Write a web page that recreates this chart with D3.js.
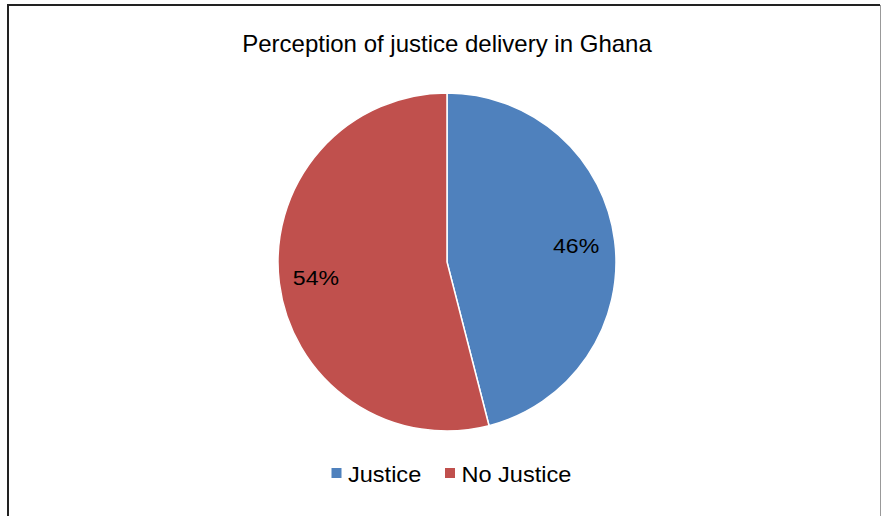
<!DOCTYPE html>
<html><head><meta charset="utf-8">
<script src="https://cdn.jsdelivr.net/npm/d3@7"></script>
<style>body{margin:0;background:#fff;}svg{display:block;font-family:"Liberation Sans",Arial,sans-serif;}</style>
</head><body>
<svg id="c" width="883" height="516"></svg>
<script>
const categories = ["Justice", "No Justice"];
const values = [46, 54];
const colors = ["#4F81BD", "#C0504D"];
const title = "Perception of justice delivery in Ghana";

const svg = d3.select("#c");
// frame
svg.append("line").attr("x1",8).attr("y1",5).attr("x2",880).attr("y2",5).attr("stroke","#222").attr("stroke-width",2);
svg.append("line").attr("x1",8).attr("y1",4).attr("x2",8).attr("y2",516).attr("stroke","#222").attr("stroke-width",2);
svg.append("line").attr("x1",880.5).attr("y1",5).attr("x2",880.5).attr("y2",516).attr("stroke","#999").attr("stroke-width",1);

svg.append("text").attr("x",447).attr("y",51.5).attr("text-anchor","middle")
  .attr("font-size",24).attr("fill","#000").text(title);

const cx = 447, cy = 262, r = 169;
const pie = d3.pie().sort(null).value(d=>d)(values);
const arc = d3.arc().innerRadius(0).outerRadius(r);
const g = svg.append("g").attr("transform",`translate(${cx},${cy})`);
g.selectAll("path").data(pie).join("path").attr("d",arc)
  .attr("fill",(d,i)=>colors[i]).attr("stroke","#fff").attr("stroke-width",1.5);

const labelArc = d3.arc().innerRadius(r*0.77).outerRadius(r*0.77);
const labelShift = [[0,0],[-2,-1]];
g.selectAll("text.lbl").data(pie).join("text").attr("class","lbl")
  .attr("transform",(d,i)=>{const c=labelArc.centroid(d);return `translate(${c[0]+labelShift[i][0]},${c[1]+labelShift[i][1]}) scale(1.1,1)`;})
  .attr("text-anchor","middle").attr("dy","0.35em").attr("font-size",21).attr("fill","#000")
  .text(d=>d.data+"%");

// legend
const legX = [331.5, 445];
const lg = svg.append("g");
categories.forEach((c,i)=>{
  lg.append("rect").attr("x",legX[i]).attr("y",468).attr("width",10).attr("height",10).attr("fill",colors[i]);
  lg.append("text").attr("transform",`translate(${legX[i]+16.5},482.3) scale(1.07,1)`).attr("font-size",22).attr("fill","#000").text(c);
});
</script>
</body></html>
